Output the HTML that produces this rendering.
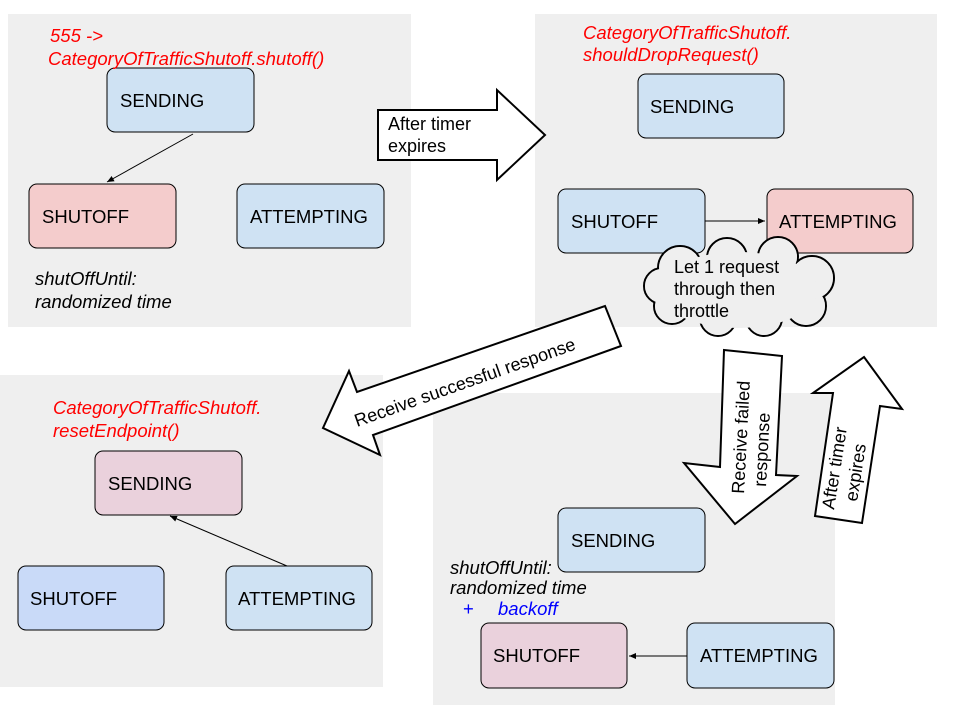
<!DOCTYPE html>
<html><head><meta charset="utf-8"><style>
html,body{margin:0;padding:0;background:#fff;}
svg{display:block;font-family:"Liberation Sans",Arial,sans-serif;}
</style></head><body>
<svg width="960" height="720" viewBox="0 0 960 720" xmlns="http://www.w3.org/2000/svg">
<defs>
<marker id="ah" markerWidth="8" markerHeight="8" refX="7" refY="4" orient="auto" markerUnits="userSpaceOnUse">
<path d="M0,1 L7,4 L0,7 z" fill="#000"/>
</marker>
</defs>
<rect x="8" y="14" width="403" height="313" fill="#efefef"/>
<rect x="535" y="14" width="402" height="313" fill="#efefef"/>
<rect x="0" y="375" width="383" height="312" fill="#efefef"/>
<rect x="433" y="393" width="402" height="312" fill="#efefef"/>

<g stroke="#000" stroke-width="1">
<rect x="107" y="68" width="147" height="64" rx="8" fill="#cfe2f3"/>
<rect x="29" y="184" width="147" height="64" rx="8" fill="#f4cccc"/>
<rect x="237" y="184" width="147" height="64" rx="8" fill="#cfe2f3"/>
<rect x="638" y="74" width="146" height="64" rx="8" fill="#cfe2f3"/>
<rect x="558" y="189" width="147" height="64" rx="8" fill="#cfe2f3"/>
<rect x="767" y="189" width="146" height="64" rx="8" fill="#f4cccc"/>
<rect x="95" y="451" width="147" height="64" rx="8" fill="#ead1dc"/>
<rect x="18" y="566" width="146" height="64" rx="8" fill="#c9daf8"/>
<rect x="226" y="566" width="146" height="64" rx="8" fill="#cfe2f3"/>
<rect x="558" y="508" width="147" height="64" rx="8" fill="#cfe2f3"/>
<rect x="481" y="623" width="146" height="65" rx="8" fill="#ead1dc"/>
<rect x="687" y="623" width="147" height="65" rx="8" fill="#cfe2f3"/>
<line x1="193" y1="134" x2="107" y2="182" marker-end="url(#ah)"/>
<line x1="705" y1="221" x2="765" y2="221" marker-end="url(#ah)"/>
<line x1="287" y1="566" x2="170" y2="516" marker-end="url(#ah)"/>
<line x1="687" y1="656" x2="629" y2="656" marker-end="url(#ah)"/>
</g>

<g font-size="18.5" fill="#000">
<text x="120" y="107">SENDING</text>
<text x="42" y="223">SHUTOFF</text>
<text x="250" y="223">ATTEMPTING</text>
<text x="650" y="113">SENDING</text>
<text x="571" y="228">SHUTOFF</text>
<text x="779" y="228">ATTEMPTING</text>
<text x="108" y="490">SENDING</text>
<text x="30" y="605">SHUTOFF</text>
<text x="238" y="605">ATTEMPTING</text>
<text x="571" y="547">SENDING</text>
<text x="493" y="662">SHUTOFF</text>
<text x="700" y="662">ATTEMPTING</text>
</g>

<g font-size="18.5" font-style="italic">
<text x="50" y="42" fill="#f00">555 -&gt;</text>
<text x="48" y="65" fill="#f00">CategoryOfTrafficShutoff.shutoff()</text>
<text x="583" y="39" fill="#f00">CategoryOfTrafficShutoff.</text>
<text x="583" y="61" fill="#f00">shouldDropRequest()</text>
<text x="53" y="414" fill="#f00">CategoryOfTrafficShutoff.</text>
<text x="53" y="437" fill="#f00">resetEndpoint()</text>
<text x="35" y="285" fill="#000">shutOffUntil:</text>
<text x="35" y="308" fill="#000">randomized time</text>
<text x="450" y="574" fill="#000">shutOffUntil:</text>
<text x="450" y="594" fill="#000">randomized time</text>
<text x="463" y="615" fill="#00f" font-style="normal">+</text>
<text x="498" y="615" fill="#00f">backoff</text>
</g>

<g fill="#fff" stroke="#000" stroke-width="2" stroke-linejoin="miter">
<polygon points="378,110 497,110 497,90 545,135 497,180 497,160 378,160"/>
<polygon points="605,306 621,346 373,435 380,455 323,428 349,371 357,392"/>
<polygon points="724,350 782,356 776,475 797,476 735,524 684,463 720,467"/>
<polygon points="864,357 902,409 880,406 862,523 815,516 833,393 813,393"/>
</g>
<g font-size="18" fill="#000">
<text x="388" y="130">After timer</text>
<text x="388" y="152">expires</text>
<text transform="translate(357,427) rotate(-19.5)">Receive successful response</text>
<text transform="translate(744,494) rotate(-87)">Receive failed</text>
<text transform="translate(766,487) rotate(-87)">response</text>
<text transform="translate(834,510) rotate(-81)">After timer</text>
<text transform="translate(857,502) rotate(-81)">expires</text>
</g>

<g stroke="#000" stroke-width="2" fill="#efefef">
<circle cx="680" cy="268" r="22"/>
<circle cx="727" cy="258" r="20"/>
<circle cx="778" cy="257" r="20"/>
<circle cx="812" cy="278" r="22"/>
<circle cx="806" cy="306" r="20"/>
<circle cx="764" cy="318" r="18"/>
<circle cx="718" cy="318" r="18"/>
<circle cx="672" cy="306" r="18"/>
<circle cx="662" cy="286" r="18"/>
</g>
<g fill="#efefef">
<circle cx="680" cy="268" r="21"/>
<circle cx="727" cy="258" r="19"/>
<circle cx="778" cy="257" r="19"/>
<circle cx="812" cy="278" r="21"/>
<circle cx="806" cy="306" r="19"/>
<circle cx="764" cy="318" r="17"/>
<circle cx="718" cy="318" r="17"/>
<circle cx="672" cy="306" r="17"/>
<circle cx="662" cy="286" r="17"/>
<ellipse cx="738" cy="290" rx="80" ry="38"/>
</g>
<g font-size="18" fill="#000">
<text x="674" y="273">Let 1 request</text>
<text x="674" y="295">through then</text>
<text x="674" y="317">throttle</text>
</g>
</svg>
</body></html>
